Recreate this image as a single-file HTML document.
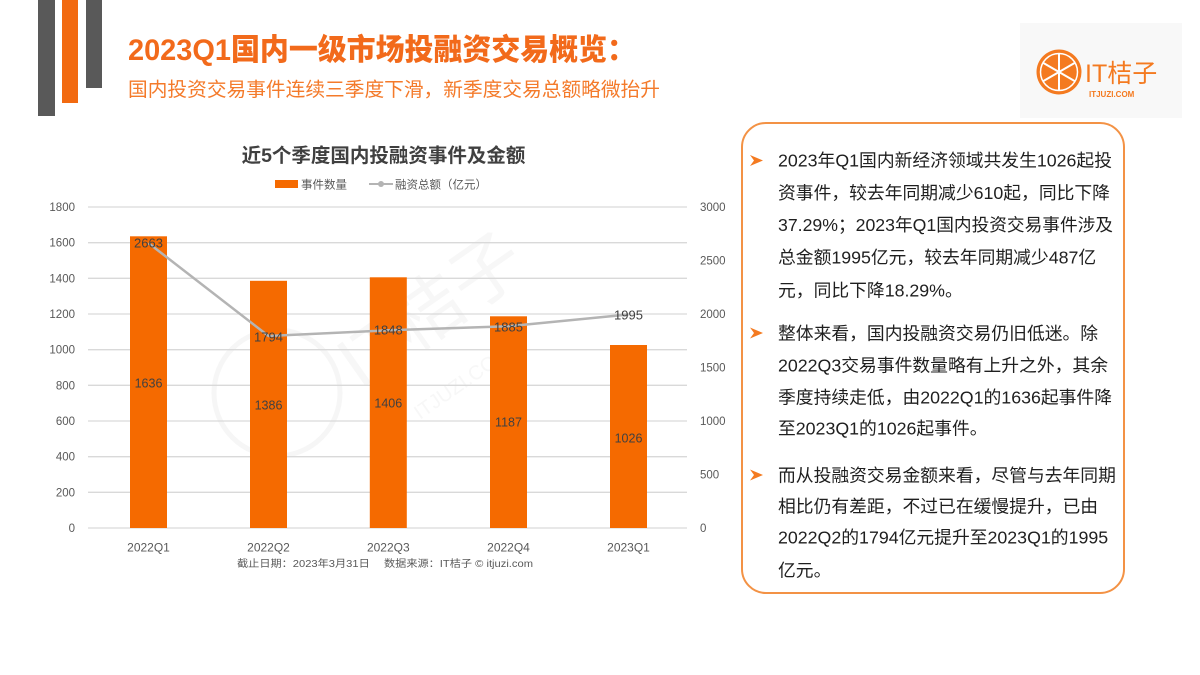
<!DOCTYPE html>
<html><head><meta charset="utf-8"><style>
html,body{margin:0;padding:0;background:#fff;}
svg{display:block;}
</style></head><body>
<svg width="1200" height="675" viewBox="0 0 1200 675" xmlns="http://www.w3.org/2000/svg" font-family="'Liberation Sans','Noto Sans CJK SC',sans-serif">
<!-- decorative bars -->
<rect x="38" y="0" width="17" height="116" fill="#595959"/>
<rect x="62" y="0" width="16" height="103" fill="#f26a10"/>
<rect x="86" y="0" width="16" height="88" fill="#595959"/>
<!-- titles -->
<text x="128" y="60" font-size="30" font-weight="900" fill="#f26a1b" textLength="508" lengthAdjust="spacingAndGlyphs">2023Q1国内一级市场投融资交易概览：</text>
<text x="128" y="96" font-size="19.5" fill="#f47a2a" textLength="532" lengthAdjust="spacingAndGlyphs">国内投资交易事件连续三季度下滑，新季度交易总额略微抬升</text>
<!-- logo -->
<rect x="1020" y="23" width="162" height="95" fill="#f8f8f8"/>
<circle cx="1059" cy="72" r="22.5" fill="#f47a20"/>
<circle cx="1059" cy="72" r="18.5" fill="none" stroke="#fff" stroke-width="1.5"/>
<g stroke="#fff" stroke-width="2">
<line x1="1059" y1="53.5" x2="1059" y2="90.5"/>
<line x1="1043" y1="62.8" x2="1075" y2="81.2"/>
<line x1="1043" y1="81.2" x2="1075" y2="62.8"/>
</g>
<text x="1085" y="82" font-size="25" fill="#f47a20">IT桔子</text>
<text x="1089" y="97" font-size="8" font-weight="700" fill="#f47a20">ITJUZI.COM</text>
<!-- watermark -->
<circle cx="277" cy="393" r="63" fill="none" stroke="#f6f6f6" stroke-width="5"/>
<text x="0" y="0" font-size="72" fill="#f7f7f7" transform="translate(360,390) rotate(-35)">IT桔子</text>
<text x="0" y="0" font-size="20" fill="#f7f7f7" transform="translate(420,420) rotate(-35)">ITJUZI.COM</text>
<!-- chart title -->
<text x="383.5" y="162" font-size="19.5" font-weight="700" fill="#404040" text-anchor="middle">近5个季度国内投融资事件及金额</text>
<!-- legend -->
<rect x="275" y="180" width="23" height="8" fill="#f56a00"/>
<text x="301" y="188.5" font-size="11.5" fill="#595959">事件数量</text>
<line x1="369" y1="184" x2="393" y2="184" stroke="#b4b4b4" stroke-width="2"/>
<circle cx="381" cy="184" r="3" fill="#b4b4b4"/>
<text x="395" y="188.5" font-size="11.5" fill="#595959">融资总额（亿元）</text>
<!-- gridlines -->
<g stroke="#d9d9d9" stroke-width="1.3">
<line x1="88" y1="207" x2="687" y2="207"/>
<line x1="88" y1="242.7" x2="687" y2="242.7"/>
<line x1="88" y1="278.3" x2="687" y2="278.3"/>
<line x1="88" y1="314" x2="687" y2="314"/>
<line x1="88" y1="349.7" x2="687" y2="349.7"/>
<line x1="88" y1="385.3" x2="687" y2="385.3"/>
<line x1="88" y1="421" x2="687" y2="421"/>
<line x1="88" y1="456.7" x2="687" y2="456.7"/>
<line x1="88" y1="492.3" x2="687" y2="492.3"/>
<line x1="88" y1="528" x2="687" y2="528"/>
</g>
<!-- left axis labels -->
<g font-size="11.5" fill="#595959" text-anchor="end">
<text x="75" y="211">1800</text>
<text x="75" y="246.7">1600</text>
<text x="75" y="282.3">1400</text>
<text x="75" y="318">1200</text>
<text x="75" y="353.7">1000</text>
<text x="75" y="389.3">800</text>
<text x="75" y="425">600</text>
<text x="75" y="460.7">400</text>
<text x="75" y="496.3">200</text>
<text x="75" y="532">0</text>
</g>
<!-- right axis labels -->
<g font-size="11.5" fill="#595959">
<text x="700" y="211">3000</text>
<text x="700" y="264.5">2500</text>
<text x="700" y="318">2000</text>
<text x="700" y="371.5">1500</text>
<text x="700" y="425">1000</text>
<text x="700" y="478.5">500</text>
<text x="700" y="532">0</text>
</g>
<!-- bars -->
<g fill="#f56a00">
<rect x="130" y="236.3" width="37" height="291.7"/>
<rect x="250" y="280.8" width="37" height="247.2"/>
<rect x="369.8" y="277.3" width="37" height="250.7"/>
<rect x="490" y="316.3" width="37" height="211.7"/>
<rect x="610" y="345" width="37" height="183"/>
</g>
<!-- line -->
<polyline points="148.5,243.1 268.5,336 388.3,330.3 508.5,326.3 628.5,314.5" fill="none" stroke="#b4b4b4" stroke-width="2.5"/>
<!-- line labels -->
<g font-size="13" fill="#404040" text-anchor="middle">
<text x="148.5" y="247.5">2663</text>
<text x="268.5" y="341.5">1794</text>
<text x="388.3" y="334.5">1848</text>
<text x="508.5" y="331.5">1885</text>
<text x="628.5" y="319.5">1995</text>
</g>
<!-- bar labels -->
<g font-size="12.5" fill="#404040" text-anchor="middle">
<text x="148.5" y="387.5">1636</text>
<text x="268.5" y="409.5">1386</text>
<text x="388.3" y="407.5">1406</text>
<text x="508.5" y="426.5">1187</text>
<text x="628.5" y="442.5">1026</text>
</g>
<!-- category labels -->
<g font-size="12" fill="#595959" text-anchor="middle">
<text x="148.5" y="551.5">2022Q1</text>
<text x="268.5" y="551.5">2022Q2</text>
<text x="388.3" y="551.5">2022Q3</text>
<text x="508.5" y="551.5">2022Q4</text>
<text x="628.5" y="551.5">2023Q1</text>
</g>
<text x="237" y="567" font-size="10" fill="#595959" textLength="296" lengthAdjust="spacingAndGlyphs">截止日期：2023年3月31日　 数据来源：IT桔子 © itjuzi.com</text>
<!-- text box -->
<rect x="742" y="123" width="382" height="470" rx="24" ry="24" fill="#fff" stroke="#f39245" stroke-width="2"/>
<g fill="#f47a20">
<polygon points="750,155 763,160.5 750,166 754,160.5"/>
<polygon points="750,327.5 763,333 750,338.5 754,333"/>
<polygon points="750,469.5 763,475 750,480.5 754,475"/>
</g>
<g font-size="17.8" fill="#1f1f1f">
<text x="778" y="166.5">2023年Q1国内新经济领域共发生1026起投</text>
<text x="778" y="199">资事件，较去年同期减少610起，同比下降</text>
<text x="778" y="231" textLength="335" lengthAdjust="spacingAndGlyphs">37.29%；2023年Q1国内投资交易事件涉及</text>
<text x="778" y="263.5">总金额1995亿元，较去年同期减少487亿</text>
<text x="778" y="296.5">元，同比下降18.29%。</text>
<text x="778" y="339.5">整体来看，国内投融资交易仍旧低迷。除</text>
<text x="778" y="371.5">2022Q3交易事件数量略有上升之外，其余</text>
<text x="778" y="403.5">季度持续走低，由2022Q1的1636起事件降</text>
<text x="778" y="434.5">至2023Q1的1026起事件。</text>
<text x="778" y="481.5">而从投融资交易金额来看，尽管与去年同期</text>
<text x="778" y="512.5">相比仍有差距，不过已在缓慢提升，已由</text>
<text x="778" y="543.5">2022Q2的1794亿元提升至2023Q1的1995</text>
<text x="778" y="576.5">亿元。</text>
</g>
</svg>
</body></html>
